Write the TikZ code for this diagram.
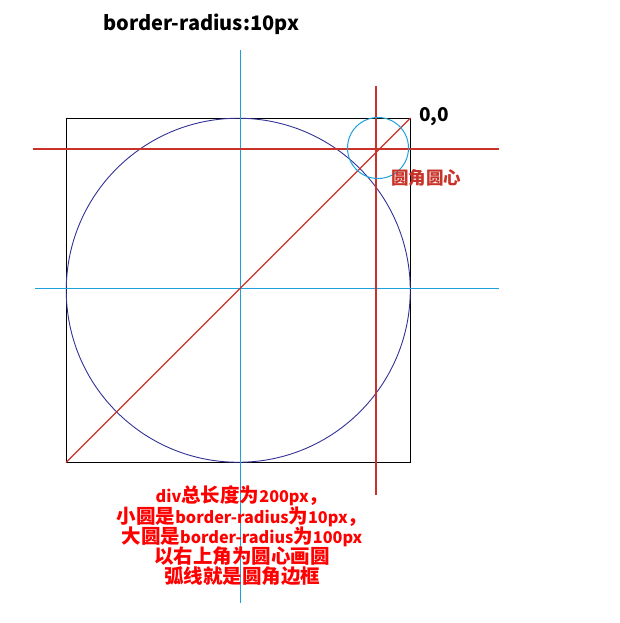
\documentclass[tikz,border=0pt]{standalone}
\usepackage{fontspec}
\newfontfamily\cjk{Noto Sans CJK SC}
\definecolor{lred}{RGB}{200,50,40}
\definecolor{lblue}{RGB}{30,160,220}
\definecolor{navy}{RGB}{50,50,150}
\newcommand\lat[1]{{\fontsize{16.2}{20.3}\selectfont #1}}
\begin{document}
\begin{tikzpicture}[x=1pt,y=-1pt,
  redline/.style={draw=lred, line width=1.1pt},
  blueline/.style={draw=lblue, line width=1pt},
  lbl/.style={font=\cjk\bfseries, inner sep=0pt},
  note/.style={font=\cjk\bfseries\fontsize{19.5}{20.3}\selectfont, text=red, align=center, inner sep=0pt}]
\useasboundingbox (0,0) rectangle (620,623);
% square
\node[draw=black, line width=1pt, minimum size=343.5pt, inner sep=0pt, anchor=north west] (sq) at (66,118) {};
% big circle
\node[draw=navy, line width=0.9pt, circle, minimum size=344pt, inner sep=0pt] (big) at (sq.center) {};
% axes
\coordinate (vt) at (240,50); \coordinate (vb) at (240,603);
\coordinate (hl) at (35,288); \coordinate (hr) at (499,288);
\draw[blueline] (vt) -- (vb);
\draw[blueline] (hl) -- (hr);
% red lines
\coordinate (rl) at (33,149); \coordinate (rr) at (499,149);
\coordinate (rt) at (376,86); \coordinate (rb) at (376,495);
\draw[redline] (rl) -- (rr);
\draw[redline] (rt) -- (rb);
\draw[redline] (sq.south west) -- (sq.north east);
% small circle
\node[draw=lblue, line width=1pt, circle, minimum size=61pt, inner sep=0pt] (small) at (378,148) {};
% labels
\node[lbl, font=\cjk\bfseries\fontsize{20}{23}\selectfont, anchor=west] (title) at (103,24) {border-radius:10px};
\node[lbl, font=\cjk\bfseries\fontsize{19}{22}\selectfont, anchor=west] (zero) at (419,117) {0,0};
\node[lbl, font=\cjk\bfseries\fontsize{17.5}{20}\selectfont, text=lred, anchor=west] (ctr) at (391,178) {圆角圆心};
\node[note] (txt) at (242,536) {\lat{div}总长度为\lat{200px}，\\小圆是\lat{border-radius}为\lat{10px}，\\大圆是\lat{border-radius}为\lat{100px}\\以右上角为圆心画圆\\弧线就是圆角边框};
\end{tikzpicture}
\end{document}
